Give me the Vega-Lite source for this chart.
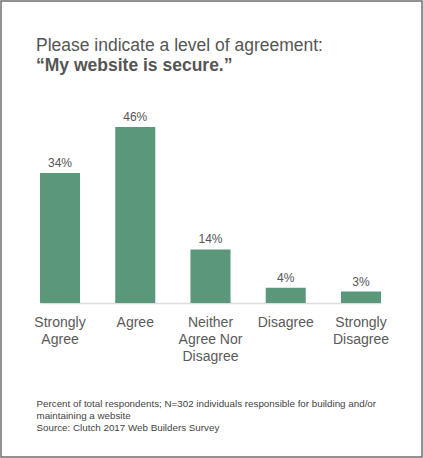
{
  "$schema": "https://vega.github.io/schema/vega-lite/v6.json",
  "description": "Level of agreement: My website is secure.",
  "width": 421,
  "height": 456,
  "autosize": "none",
  "padding": 1,
  "background": "white",
  "config": {
    "font": "Liberation Sans",
    "view": {"stroke": "#6e6e6e", "strokeWidth": 1.5}
  },
  "title": {
    "text": "Please indicate a level of agreement:",
    "subtitle": "“My website is secure.”",
    "anchor": "start",
    "frame": "group",
    "orient": "top",
    "offset": -73,
    "dx": 35,
    "fontSize": 17.5,
    "fontWeight": "normal",
    "color": "#555555",
    "subtitleFontSize": 17.5,
    "subtitleFontWeight": "bold",
    "subtitleColor": "#555555",
    "subtitlePadding": 2
  },
  "data": {
    "values": [
      {"answer": "Strongly Agree", "share": 0.34},
      {"answer": "Agree", "share": 0.46},
      {"answer": "Neither Agree Nor Disagree", "share": 0.14},
      {"answer": "Disagree", "share": 0.04},
      {"answer": "Strongly Disagree", "share": 0.03}
    ]
  },
  "encoding": {
    "x": {
      "field": "answer",
      "type": "nominal",
      "sort": null,
      "scale": {"range": [39, 380], "paddingInner": 0.468, "paddingOuter": 0},
      "axis": {
        "orient": "bottom",
        "offset": -154,
        "labelAngle": 0,
        "labelFontSize": 14,
        "labelColor": "#5a5a5a",
        "labelLineHeight": 17,
        "labelPadding": 12,
        "labelExpr": "datum.value == 'Neither Agree Nor Disagree' ? ['Neither', 'Agree Nor', 'Disagree'] : split(datum.value, ' ')",
        "ticks": false,
        "domainColor": "#dddddd",
        "domainWidth": 1.5,
        "title": [
          "Percent of total respondents; N=302 individuals responsible for building and/or",
          "maintaining a website",
          "Source: Clutch 2017 Web Builders Survey"
        ],
        "titleFontSize": 9.8,
        "titleFontWeight": "normal",
        "titleColor": "#444444",
        "titleAnchor": "start",
        "titleAlign": "left",
        "titleBaseline": "alphabetic",
        "titleLineHeight": 12,
        "titleX": 35,
        "titleY": 103
      }
    },
    "y": {
      "field": "share",
      "type": "quantitative",
      "scale": {"domain": [0, 0.46], "range": [302, 126]},
      "axis": null
    }
  },
  "layer": [
    {"mark": {"type": "bar", "color": "#5b977b"}},
    {
      "mark": {"type": "text", "baseline": "bottom", "dy": -3, "fontSize": 12, "color": "#555555"},
      "encoding": {"text": {"field": "share", "type": "quantitative", "format": ".0%"}}
    }
  ]
}
